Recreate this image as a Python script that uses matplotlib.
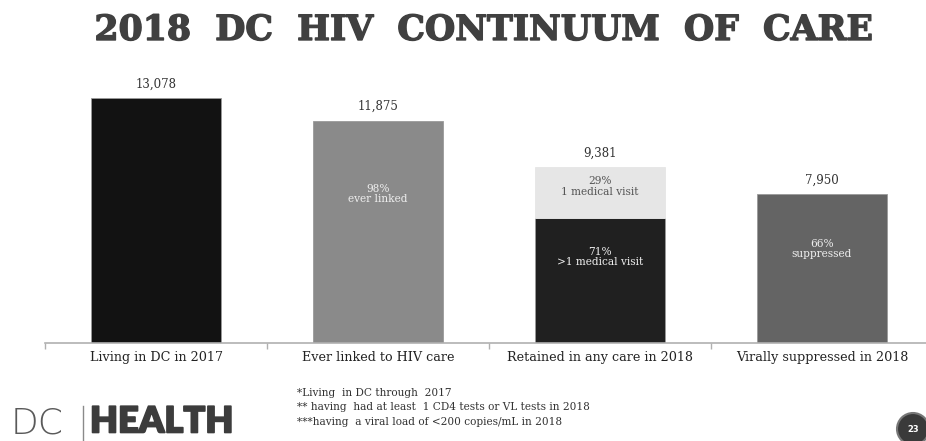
import matplotlib
matplotlib.use("Agg")
import matplotlib.pyplot as plt
from matplotlib.patches import Ellipse
import matplotlib.patheffects as pe

# HIV care continuum, District of Columbia
categories = ["Living in DC in 2017", "Ever linked to HIV care",
              "Retained in any care in 2018", "Virally suppressed in 2018"]
totals = [13078, 11875, 9381, 7950]
value_labels = ["13,078", "11,875", "9,381", "7,950"]
retained_multi_share = 0.71   # >1 medical visit
retained_single_share = 0.29  # 1 medical visit
inner_labels = ["", "98%\never linked", "71%\n>1 medical visit", "66%\nsuppressed"]
top_inner_label = "29%\n1 medical visit"
footnotes = ["*Living  in DC through  2017",
             "** having  had at least  1 CD4 tests or VL tests in 2018",
             "***having  a viral load of <200 copies/mL in 2018"]

W, H = 926, 441
fig = plt.figure(figsize=(W / 100, H / 100), dpi=100)
fig.patch.set_facecolor("white")

serif = ["DejaVu Serif"]

# axes: baseline at y=343 px, category slots 222 px wide starting at x=45
ax_left, ax_bottom = 45 / W, (H - 343) / H
ax_w, ax_h = 888 / W, 255 / H
ax = fig.add_axes([ax_left, ax_bottom, ax_w, ax_h])
scale_top = 13078 / 0.96
ax.set_ylim(0, scale_top)
ax.set_xlim(-0.5, 3.5)

bw = 0.59
colors = ["#121212", "#8a8a8a", None, "#646464"]
edge = "#9a9a9a"

for i, v in enumerate(totals):
    if i == 2:
        low = v * retained_multi_share
        ax.bar(i, low, width=bw, color="#202020", edgecolor=edge, linewidth=0.6)
        ax.bar(i, v - low, bottom=low, width=bw, color="#e6e6e6",
               edgecolor="#e6e6e6", linewidth=0.6)
    else:
        ax.bar(i, v, width=bw, color=colors[i], edgecolor=edge, linewidth=0.6)
    ax.text(i, v + scale_top * 0.03, value_labels[i], ha="center", va="bottom",
            fontsize=8.5, family=serif, color="#333333")

# labels inside bars
inner_kw = dict(ha="center", va="center", fontsize=7.6, family=serif,
                linespacing=1.05)
ax.text(1, totals[1] * 0.67, inner_labels[1], color="#eeeeee", **inner_kw)
ax.text(2, totals[2] * 0.49, inner_labels[2], color="#eeeeee", **inner_kw)
ax.text(2, totals[2] * (retained_multi_share + retained_single_share / 2) + 350,
        top_inner_label, color="#555555", **inner_kw)
ax.text(3, totals[3] * 0.63, inner_labels[3], color="#eeeeee", **inner_kw)

for s in ["top", "right", "left"]:
    ax.spines[s].set_visible(False)
ax.spines["bottom"].set_color("#b0b0b0")
ax.spines["bottom"].set_linewidth(1.2)
ax.set_yticks([])
ax.set_xticks([-0.5, 0.5, 1.5, 2.5, 3.5])
ax.set_xticklabels([])
ax.tick_params(axis="x", length=4, color="#b0b0b0", width=1)
for i, c in enumerate(categories):
    ax.text(i, -scale_top * 0.03, c, ha="center", va="top",
            fontsize=9.2, family=serif, color="#222222")

# title
fig.text(0.523, 1 - 30 / H, "2018  DC  HIV  CONTINUUM  OF  CARE", ha="center",
         va="center", fontsize=25, fontweight="bold", family="DejaVu Serif",
         color="#404040",
         path_effects=[pe.withStroke(linewidth=1.0, foreground="#404040")])

# footnotes
for k, line in enumerate(footnotes):
    fig.text(297 / W, 1 - (393 + 14.5 * k) / H, line, ha="left", va="center",
             fontsize=7.6, family=serif, color="#333333")

# agency wordmark
fig.text(11 / W, 1 - 423 / H, "DC", ha="left", va="center", fontsize=26,
         family="DejaVu Sans", fontweight="light", color="#5a5a5a")
fig.lines.append(plt.Line2D([83 / W, 83 / W], [1 - 406 / H, 1 - 440 / H],
                            transform=fig.transFigure, color="#8a8a8a", lw=1))
fig.text(90 / W, 1 - 422 / H, "HEALTH", ha="left", va="center", fontsize=26,
         family="Lato", fontweight="heavy", color="#3c3c3c",
         path_effects=[pe.withStroke(linewidth=1.2, foreground="#3c3c3c")])

# page badge
badge = Ellipse((913 / W, 1 - 429 / H), 32 / W, 32 / H, transform=fig.transFigure,
                facecolor="#3a3a3a", edgecolor="#777777", lw=1.5)
fig.patches.append(badge)
fig.text(913 / W, 1 - 429 / H, "23", ha="center", va="center", fontsize=6,
         fontweight="bold", color="white")

fig.savefig("out.png", dpi=100, facecolor="white")
